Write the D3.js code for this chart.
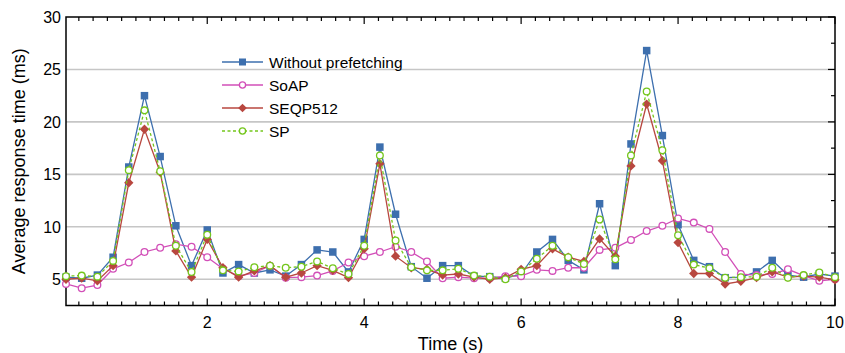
<!DOCTYPE html>
<html>
<head>
<meta charset="utf-8">
<script src="https://cdn.jsdelivr.net/npm/d3@7"></script>
<style>
  html, body { margin: 0; padding: 0; background: #fff; }
  svg { display: block; font-family: Arial, "Liberation Sans", sans-serif; }
</style>
</head>
<body>
<svg id="chart" width="845" height="353"></svg>
<script>
// Sample times (s), one every 0.2 s
const times = d3.range(1, 51).map(i => +(i * 0.2).toFixed(1));

const withoutPrefetching = [5.2, 5.1, 5.4, 7.1, 15.7, 22.5, 16.7, 10.1, 6.3, 9.7,
  5.6, 6.4, 5.6, 5.9, 5.3, 6.4, 7.8, 7.6, 5.7, 8.8,
  17.6, 11.2, 6.2, 5.1, 6.3, 6.3, 5.3, 5.25, 5.1, 5.5,
  7.6, 8.8, 6.8, 5.9, 12.2, 6.3, 17.9, 26.8, 18.7, 10.2,
  6.8, 6.2, 5.15, 5.2, 5.7, 6.8, 5.4, 5.2, 5.5, 5.3];

const soap = [4.55, 4.15, 4.45, 6.0, 6.6, 7.6, 8.0, 8.35, 8.1, 7.1,
  6.0, 5.3, 5.6, 6.3, 5.15, 5.2, 5.35, 5.8, 6.6, 7.2,
  7.6, 8.1, 7.6, 6.7, 5.1, 5.2, 5.1, 5.1, 5.3, 5.3,
  5.9, 5.8, 6.1, 6.1, 7.8, 8.0, 8.75, 9.6, 10.1, 10.8,
  10.4, 9.8, 7.6, 5.5, 5.4, 5.5, 5.95, 5.35, 4.85, 5.0];

const seqp512 = [5.0, 5.1, 4.85, 6.3, 14.2, 19.3, 15.2, 7.7, 5.2, 8.8,
  6.1, 5.2, 5.8, 6.3, 5.2, 5.6, 6.3, 5.85, 5.15, 7.9,
  16.0, 7.2, 6.1, 5.95, 5.4, 5.5, 5.2, 5.0, 5.15, 5.95,
  6.3, 7.9, 7.1, 6.7, 8.85, 7.2, 15.8, 21.7, 16.3, 8.5,
  5.55, 5.55, 4.55, 4.8, 5.15, 5.7, 5.2, 5.3, 5.2, 4.95];

const sp = [5.3, 5.35, 5.25, 6.75, 15.4, 21.1, 15.3, 8.2, 5.7, 9.25,
  5.85, 5.75, 6.15, 6.3, 6.1, 6.2, 6.7, 6.05, 5.5, 8.2,
  16.8, 8.7, 6.15, 5.85, 5.85, 6.0, 5.35, 5.25, 5.0, 5.75,
  6.95, 8.2, 7.1, 6.45, 10.7, 6.9, 16.8, 22.9, 17.3, 9.2,
  6.4, 6.05, 5.15, 5.2, 5.25, 6.1, 5.15, 5.4, 5.65, 5.2];

const xTicks = [2, 4, 6, 8, 10];
const yTicks = [5, 10, 15, 20, 25, 30];

const series = [
  { name: "Without prefetching", values: withoutPrefetching, color: "#3d6fae", dash: null, marker: "square" },
  { name: "SoAP", values: soap, color: "#d24fb8", dash: null, marker: "circle" },
  { name: "SEQP512", values: seqp512, color: "#b8473f", dash: null, marker: "diamond" },
  { name: "SP", values: sp, color: "#74c61c", dash: "3,2.5", marker: "circle" }
];

const W = 845, H = 353;
const margin = { left: 66, right: 10, top: 17, bottom: 47.5 };
const svg = d3.select("#chart");

const x = d3.scaleLinear().domain([0.2, 10]).range([margin.left, W - margin.right]);
const y = d3.scaleLinear().domain([2.5, 30]).range([H - margin.bottom, margin.top]);

const x0 = x.range()[0], x1 = x.range()[1];
const y0 = y.range()[0], y1 = y.range()[1];

// Horizontal grid
svg.append("g").selectAll("line")
  .data(yTicks.filter(v => v < 30))
  .join("line")
  .attr("x1", x0).attr("x2", x1)
  .attr("y1", d => y(d)).attr("y2", d => y(d))
  .attr("stroke", "#c6c6c6").attr("stroke-width", 1.6);

// Minor x ticks: ten subdivisions between majors
const xMinor = [];
for (let m = 0; m < 10; m += 2) {
  for (let k = 1; k <= 10; k++) {
    const v = m + k * 2 / 11;
    if (v >= 0.2 && v <= 10) xMinor.push(v);
  }
}
const yMinor = d3.range(2.5, 30, 5);

const axisG = svg.append("g").attr("stroke", "#000").attr("stroke-width", 1.2);
// bottom ticks (inward)
axisG.selectAll(".bmaj").data(xTicks).join("line").attr("class", "bmaj")
  .attr("x1", d => x(d)).attr("x2", d => x(d)).attr("y1", y0).attr("y2", y0 - 7);
axisG.selectAll(".bmin").data(xMinor).join("line").attr("class", "bmin")
  .attr("x1", d => x(d)).attr("x2", d => x(d)).attr("y1", y0).attr("y2", y0 - 4);
// top ticks (inward)
axisG.selectAll(".tmaj").data(xTicks).join("line").attr("class", "tmaj")
  .attr("x1", d => x(d)).attr("x2", d => x(d)).attr("y1", y1).attr("y2", y1 + 7);
axisG.selectAll(".tmin").data(xMinor).join("line").attr("class", "tmin")
  .attr("x1", d => x(d)).attr("x2", d => x(d)).attr("y1", y1).attr("y2", y1 + 4);
// right ticks (inward)
axisG.selectAll(".rmaj").data(yTicks).join("line").attr("class", "rmaj")
  .attr("x1", x1).attr("x2", x1 - 7).attr("y1", d => y(d)).attr("y2", d => y(d));
axisG.selectAll(".rmin").data(yMinor).join("line").attr("class", "rmin")
  .attr("x1", x1).attr("x2", x1 - 4).attr("y1", d => y(d)).attr("y2", d => y(d));

// Frame
svg.append("rect")
  .attr("x", x0).attr("y", y1).attr("width", x1 - x0).attr("height", y0 - y1)
  .attr("fill", "none").attr("stroke", "#000").attr("stroke-width", 1.5);

// Tick labels
svg.append("g").selectAll("text").data(xTicks).join("text")
  .attr("x", d => x(d)).attr("y", y0 + 22)
  .attr("text-anchor", "middle").attr("font-size", 16).text(d => d);
svg.append("g").selectAll("text").data(yTicks).join("text")
  .attr("x", x0 - 5).attr("y", d => y(d) + 6)
  .attr("text-anchor", "end").attr("font-size", 16).text(d => d);

// Axis titles
svg.append("text").attr("x", (x0 + x1) / 2).attr("y", 349.5)
  .attr("text-anchor", "middle").attr("font-size", 18).text("Time (s)");
svg.append("text")
  .attr("transform", `translate(25,${(y0 + y1) / 2}) rotate(-90)`)
  .attr("text-anchor", "middle").attr("font-size", 18).text("Average response time (ms)");

function drawMarker(g, type, color, cx, cy, size) {
  if (type === "square") {
    g.append("rect").attr("x", cx - size / 2).attr("y", cy - size / 2)
      .attr("width", size).attr("height", size).attr("fill", color);
  } else if (type === "diamond") {
    const r = size * 0.62;
    g.append("path").attr("d", `M${cx},${cy - r}L${cx + r},${cy}L${cx},${cy + r}L${cx - r},${cy}Z`)
      .attr("fill", color);
  } else {
    g.append("circle").attr("cx", cx).attr("cy", cy).attr("r", size / 2 - 0.4)
      .attr("fill", "#fff").attr("stroke", color).attr("stroke-width", 1.3);
  }
}

const line = d3.line().x((d, i) => x(times[i])).y(d => y(d));

series.forEach(s => {
  const g = svg.append("g");
  g.append("path").attr("d", line(s.values))
    .attr("fill", "none").attr("stroke", s.color).attr("stroke-width", 1.3)
    .attr("stroke-dasharray", s.dash);
  s.values.forEach((v, i) => drawMarker(g, s.marker, s.color, x(times[i]), y(v), 7.5));
});

// Legend
const legend = svg.append("g");
series.forEach((s, i) => {
  const ly = 62 + i * 23;
  legend.append("line").attr("x1", 222).attr("x2", 263).attr("y1", ly).attr("y2", ly)
    .attr("stroke", s.color).attr("stroke-width", 1.3).attr("stroke-dasharray", s.dash);
  drawMarker(legend, s.marker, s.color, 242.5, ly, 7);
  legend.append("text").attr("x", 269).attr("y", ly + 5.5)
    .attr("font-size", 15.5).text(s.name);
});
</script>
</body>
</html>
